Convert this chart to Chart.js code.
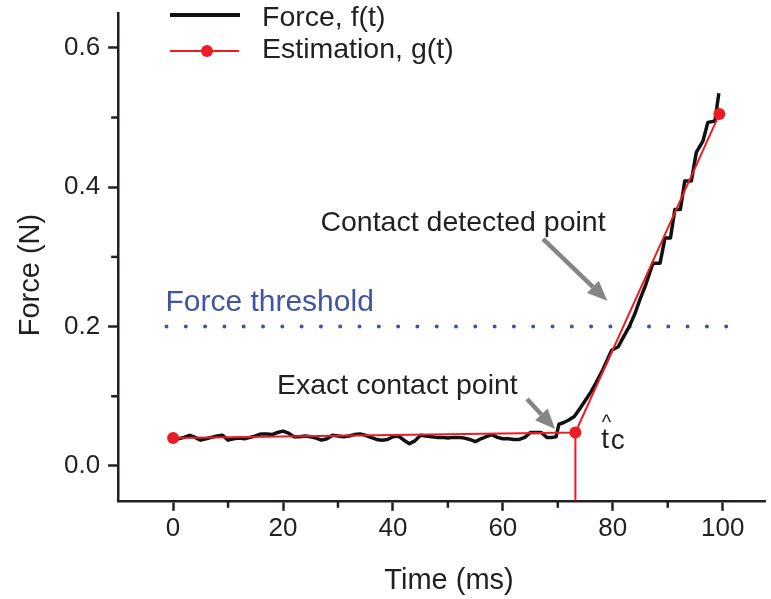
<!DOCTYPE html>
<html>
<head>
<meta charset="utf-8">
<script src="https://cdn.jsdelivr.net/npm/chart.js@4/dist/chart.umd.min.js"></script>
<style>
html,body{margin:0;padding:0;background:#fff;}
canvas{display:block;}
</style>
</head>
<body>
<canvas id="c" width="771" height="599"></canvas>
<script>
// ---- data ----
const forceTime = [0,1,2,3,4,5,6,7,8,9,10,11,12,13,14,15,16,17,18,19,20,21,22,23,24,25,26,27,28,29,30,31,32,33,34,35,36,37,38,39,40,41,42,43,44,45,46,47,48,49,50,51,52,53,54,55,56,57,58,59,60,61,62,63,64,65,66,67,68,69,69.7,70.2,71,72,73,74,75,76,77,78,79,79.8,81,82,83,84,85,86,87.3,88.6,89.5,90.5,91.3,92.3,93.1,94.3,95.2,96.4,97.3,98.6,99.3];
const forceValue = [0.040,0.039,0.041,0.044,0.041,0.037,0.039,0.041,0.043,0.044,0.037,0.039,0.040,0.039,0.041,0.043,0.046,0.046,0.045,0.048,0.050,0.047,0.042,0.042,0.043,0.042,0.040,0.037,0.039,0.044,0.043,0.042,0.043,0.045,0.046,0.044,0.041,0.038,0.037,0.038,0.042,0.043,0.037,0.032,0.036,0.044,0.043,0.042,0.041,0.041,0.040,0.041,0.041,0.040,0.038,0.035,0.039,0.042,0.045,0.041,0.039,0.039,0.038,0.038,0.041,0.048,0.048,0.048,0.041,0.041,0.042,0.060,0.062,0.066,0.071,0.082,0.094,0.106,0.120,0.135,0.152,0.166,0.171,0.186,0.200,0.218,0.240,0.260,0.291,0.291,0.327,0.327,0.368,0.368,0.409,0.409,0.450,0.466,0.493,0.495,0.535];
const estTime = [0, 73.2, 99.4];
const estValue = [0.040, 0.048, 0.505];
const contactTime = [73.2, 73.2];
const contactValue = [0.048, -0.05];
const thresholdTime = [-1.2, 101.2];
const thresholdValue = [0.2, 0.2];
const xTicks = [-10, 0, 10, 20, 30, 40, 50, 60, 70, 80, 90, 100];
const xMajor = [0, 20, 40, 60, 80, 100];
const yTicks = [0.0, 0.1, 0.2, 0.3, 0.4, 0.5, 0.6];
const yMajor = ['0.0', '0.2', '0.4', '0.6'];
const xLabels = ['Time (ms)'];
const yLabels = ['Force (N)'];
const legendLabels = ['Force, f(t)', 'Estimation, g(t)'];
const noteLabels = ['Force threshold', 'Contact detected point', 'Exact contact point', 't', 'c', '^'];

const zip = (xs, ys) => xs.map((x, i) => ({x: x, y: ys[i]}));
const INK = '#231f20';
const RED = '#ec1c24';
const BLUE = '#3f55a3';
const GREY = '#858585';
const FONT = "'Liberation Sans', Arial, Helvetica, sans-serif";
const isXMajor = v => xMajor.indexOf(Math.round(v)) >= 0;
const isYMajor = v => yMajor.indexOf(v.toFixed(1)) >= 0;

const decorPlugin = {
  id: 'decor',
  afterDraw(chart) {
    const ctx = chart.ctx;
    const xs = chart.scales.x, ys = chart.scales.y;
    const X = v => xs.getPixelForValue(v);
    const Y = v => ys.getPixelForValue(v);
    const area = chart.chartArea;
    ctx.save();
    // minor ticks
    ctx.strokeStyle = INK;
    ctx.lineWidth = 2.5;
    xTicks.filter(v => !isXMajor(v) && v > xs.min).forEach(v => {
      ctx.beginPath(); ctx.moveTo(X(v), area.bottom); ctx.lineTo(X(v), area.bottom + 7); ctx.stroke();
    });
    yTicks.filter(v => !isYMajor(v)).forEach(v => {
      ctx.beginPath(); ctx.moveTo(area.left, Y(v)); ctx.lineTo(area.left - 7, Y(v)); ctx.stroke();
    });
    // axis titles
    ctx.fillStyle = INK;
    ctx.font = '29px ' + FONT;
    ctx.textAlign = 'center';
    ctx.textBaseline = 'alphabetic';
    ctx.fillText(xLabels[0], 449, 589);
    ctx.save();
    ctx.translate(39, 275);
    ctx.rotate(-Math.PI / 2);
    ctx.fillText(yLabels[0], 0, 0);
    ctx.restore();

    // annotation texts
    ctx.textAlign = 'left';
    ctx.fillStyle = BLUE;
    ctx.font = '30px ' + FONT;
    ctx.fillText(noteLabels[0], X(-1.4), Y(0.2227));
    ctx.fillStyle = INK;
    ctx.font = '28.5px ' + FONT;
    ctx.fillText(noteLabels[1], X(26.8), Y(0.3376));
    ctx.fillText(noteLabels[2], X(18.9), Y(0.103));
    // t-hat c
    ctx.font = '28px ' + FONT;
    ctx.fillText(noteLabels[3], X(77.9), Y(0.026));
    ctx.fillText(noteLabels[4], X(77.9) + 9.5, Y(0.024));
    ctx.font = '20px ' + FONT;
    ctx.fillText(noteLabels[5], X(77.9) + 0.5, Y(0.026) - 19);

    // arrows
    const arrow = (t0, v0, t1, v1) => {
      const x0 = X(t0), y0 = Y(v0), x1 = X(t1), y1 = Y(v1);
      const ang = Math.atan2(y1 - y0, x1 - x0);
      const hl = 20, hw = 8.5;
      const bx = x1 - hl * Math.cos(ang), by = y1 - hl * Math.sin(ang);
      ctx.strokeStyle = GREY; ctx.fillStyle = GREY;
      ctx.lineWidth = 4.5; ctx.lineCap = 'butt';
      ctx.beginPath(); ctx.moveTo(x0, y0); ctx.lineTo(bx, by); ctx.stroke();
      ctx.beginPath();
      ctx.moveTo(x1, y1);
      ctx.lineTo(bx + hw * Math.sin(ang), by - hw * Math.cos(ang));
      ctx.lineTo(bx - hw * Math.sin(ang), by + hw * Math.cos(ang));
      ctx.closePath(); ctx.fill();
    };
    arrow(67.3, 0.326, 79.0, 0.237);
    arrow(64.4, 0.096, 69.5, 0.053);

    // legend
    ctx.lineCap = 'butt';
    ctx.strokeStyle = '#111';
    ctx.lineWidth = 4;
    ctx.beginPath(); ctx.moveTo(170, 15); ctx.lineTo(240, 15); ctx.stroke();
    ctx.strokeStyle = RED;
    ctx.lineWidth = 2;
    ctx.beginPath(); ctx.moveTo(170, 51); ctx.lineTo(239, 51); ctx.stroke();
    ctx.fillStyle = RED;
    ctx.beginPath(); ctx.arc(207, 51, 6, 0, Math.PI * 2); ctx.fill();
    ctx.fillStyle = INK;
    ctx.font = '28.5px ' + FONT;
    ctx.fillText(legendLabels[0], 262, 26);
    ctx.fillText(legendLabels[1], 262, 58);
    ctx.restore();
  }
};

new Chart(document.getElementById('c'), {
  type: 'line',
  data: {
    datasets: [
      {
        label: legendLabels[1],
        data: zip(estTime, estValue),
        borderColor: RED, backgroundColor: RED,
        borderWidth: 2, pointRadius: 6, pointBorderWidth: 0,
        pointBackgroundColor: RED, order: 1
      },
      {
        label: 'contact',
        data: zip(contactTime, contactValue),
        borderColor: RED, borderWidth: 2, pointRadius: 0, order: 2
      },
      {
        label: legendLabels[0],
        data: zip(forceTime, forceValue),
        borderColor: '#111', borderWidth: 3.5, pointRadius: 0,
        borderJoinStyle: 'round', order: 3
      },
      {
        label: noteLabels[0],
        data: zip(thresholdTime, thresholdValue),
        borderColor: BLUE, borderWidth: 4, pointRadius: 0,
        borderDash: [0, 19.3], borderCapStyle: 'round', order: 4
      }
    ]
  },
  options: {
    responsive: false,
    animation: false,
    layout: { padding: { left: 56, top: 13, right: -16, bottom: 53 } },
    plugins: { legend: { display: false }, tooltip: { enabled: false } },
    scales: {
      x: {
        type: 'linear', min: -10, max: 107.7,
        afterBuildTicks: s => { s.ticks = xTicks.map(v => ({value: v})); },
        ticks: {
          autoSkip: false, maxRotation: 0,
          color: INK, font: { family: FONT, size: 26 }, padding: 2,
          callback: v => isXMajor(v) ? String(Math.round(v)) : ''
        },
        grid: {
          drawOnChartArea: false, drawTicks: true, tickLength: 10, tickWidth: 2.5,
          tickColor: c => (c.tick && isXMajor(c.tick.value)) ? INK : 'rgba(0,0,0,0)'
        },
        border: { display: true, width: 2.5, color: INK }
      },
      y: {
        type: 'linear', min: -0.05, max: 0.65,
        afterBuildTicks: s => { s.ticks = yTicks.map(v => ({value: v})); },
        ticks: {
          autoSkip: false,
          color: INK, font: { family: FONT, size: 26, lineHeight: 0.3 }, padding: 8,
          callback: v => isYMajor(v) ? v.toFixed(1) : ''
        },
        grid: {
          drawOnChartArea: false, drawTicks: true, tickLength: 10, tickWidth: 2.5,
          tickColor: c => (c.tick && isYMajor(c.tick.value)) ? INK : 'rgba(0,0,0,0)'
        },
        border: { display: true, width: 2.5, color: INK }
      }
    }
  },
  plugins: [decorPlugin]
});
</script>
</body>
</html>
